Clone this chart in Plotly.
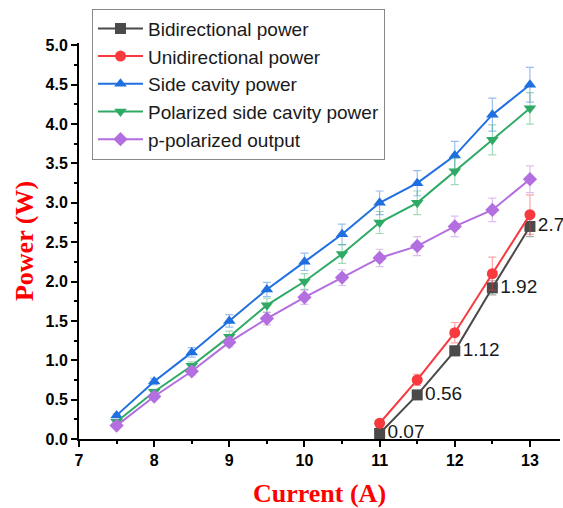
import plotly.graph_objects as go

current_all = [7.5, 8, 8.5, 9, 9.5, 10, 10.5, 11, 11.5, 12, 12.5, 13]
current_hi = [11, 11.5, 12, 12.5, 13]

bidirectional = [0.07, 0.56, 1.12, 1.92, 2.7]
bidirectional_err = [0.01, 0.03, 0.06, 0.09, 0.13]
bidirectional_labels = ["0.07", "0.56", "1.12", "1.92", "2.7"]

unidirectional = [0.2, 0.75, 1.35, 2.1, 2.85]
unidirectional_err = [0.02, 0.07, 0.13, 0.21, 0.25]

side_cavity = [0.3, 0.73, 1.1, 1.5, 1.9, 2.25, 2.6, 3.0, 3.25, 3.6, 4.12, 4.5]
side_cavity_err = [0.02, 0.04, 0.06, 0.08, 0.09, 0.11, 0.13, 0.15, 0.16, 0.18, 0.21, 0.22]

polarized_side = [0.22, 0.6, 0.93, 1.3, 1.7, 2.0, 2.35, 2.75, 3.0, 3.4, 3.8, 4.2]
polarized_side_err = [0.02, 0.03, 0.05, 0.07, 0.09, 0.1, 0.12, 0.14, 0.15, 0.17, 0.19, 0.2]

p_polarized = [0.17, 0.54, 0.86, 1.23, 1.53, 1.8, 2.05, 2.3, 2.45, 2.7, 2.91, 3.3]
p_polarized_err = [0.02, 0.03, 0.05, 0.06, 0.08, 0.09, 0.1, 0.11, 0.12, 0.13, 0.15, 0.17]

names = ["Bidirectional power", "Unidirectional power", "Side cavity power",
         "Polarized side cavity power", "p-polarized output"]
colors = ["#4a4a4a", "#f83a3f", "#1f6fe0", "#2eaa64", "#b36ee0"]
err_colors = ["rgba(74,74,74,0.45)", "rgba(248,58,63,0.45)", "rgba(31,111,224,0.45)",
              "rgba(46,170,100,0.45)", "rgba(179,110,224,0.45)"]
symbols = ["square", "circle", "triangle-up", "triangle-down", "diamond"]

series = [
    (current_hi, bidirectional, bidirectional_err),
    (current_hi, unidirectional, unidirectional_err),
    (current_all, side_cavity, side_cavity_err),
    (current_all, polarized_side, polarized_side_err),
    (current_all, p_polarized, p_polarized_err),
]

fig = go.Figure()
for i, (xs, ys, es) in enumerate(series):
    if i == 0:
        kw = dict(mode="lines+markers+text", text=bidirectional_labels,
                  textposition="middle right",
                  textfont=dict(family="Liberation Sans, Arial", size=19, color="#1a1a1a"))
    else:
        kw = dict(mode="lines+markers")
    fig.add_trace(go.Scatter(
        x=xs, y=ys, name=names[i],
        line=dict(color=colors[i], width=2),
        marker=dict(symbol=symbols[i], size=11, color=colors[i]),
        error_y=dict(type="data", array=es, visible=True, color=err_colors[i],
                     thickness=1.2, width=4),
        cliponaxis=False,
        **kw,
    ))

fig.update_layout(
    width=563, height=508,
    margin=dict(l=79, r=3, t=43, b=69),
    paper_bgcolor="white", plot_bgcolor="white",
    showlegend=True,
    legend=dict(
        x=0.027, y=1.087, xanchor="left", yanchor="top",
        bgcolor="white", bordercolor="#888888", borderwidth=1,
        font=dict(family="Liberation Sans, Arial", size=19, color="#1a1a1a"),
        itemwidth=45, tracegroupgap=0,
    ),
    xaxis=dict(
        range=[7, 13.4], dtick=1, tick0=7,
        showline=True, linecolor="black", linewidth=2,
        ticks="outside", ticklen=6, tickwidth=2, tickcolor="black",
        minor=dict(dtick=0.5, ticks="outside", ticklen=3, tickwidth=2, tickcolor="black"),
        showgrid=False, zeroline=False,
        tickfont=dict(family="Liberation Sans, Arial", size=16, color="black", weight="bold"),
        title=dict(text="Current (A)", standoff=17,
                   font=dict(family="Liberation Serif, Times New Roman", size=26, color="#ff0000", weight="bold")),
    ),
    yaxis=dict(
        range=[0, 5.03], dtick=0.5, tick0=0, tickformat=".1f",
        showline=True, linecolor="black", linewidth=2,
        ticks="outside", ticklen=6, tickwidth=2, tickcolor="black",
        minor=dict(dtick=0.25, ticks="outside", ticklen=3, tickwidth=2, tickcolor="black"),
        showgrid=False, zeroline=False,
        tickfont=dict(family="Liberation Sans, Arial", size=16, color="black", weight="bold"),
        title=dict(text="Power (W)", standoff=4,
                   font=dict(family="Liberation Serif, Times New Roman", size=26, color="#ff0000", weight="bold")),
    ),
)

fig.write_html("out.html")
